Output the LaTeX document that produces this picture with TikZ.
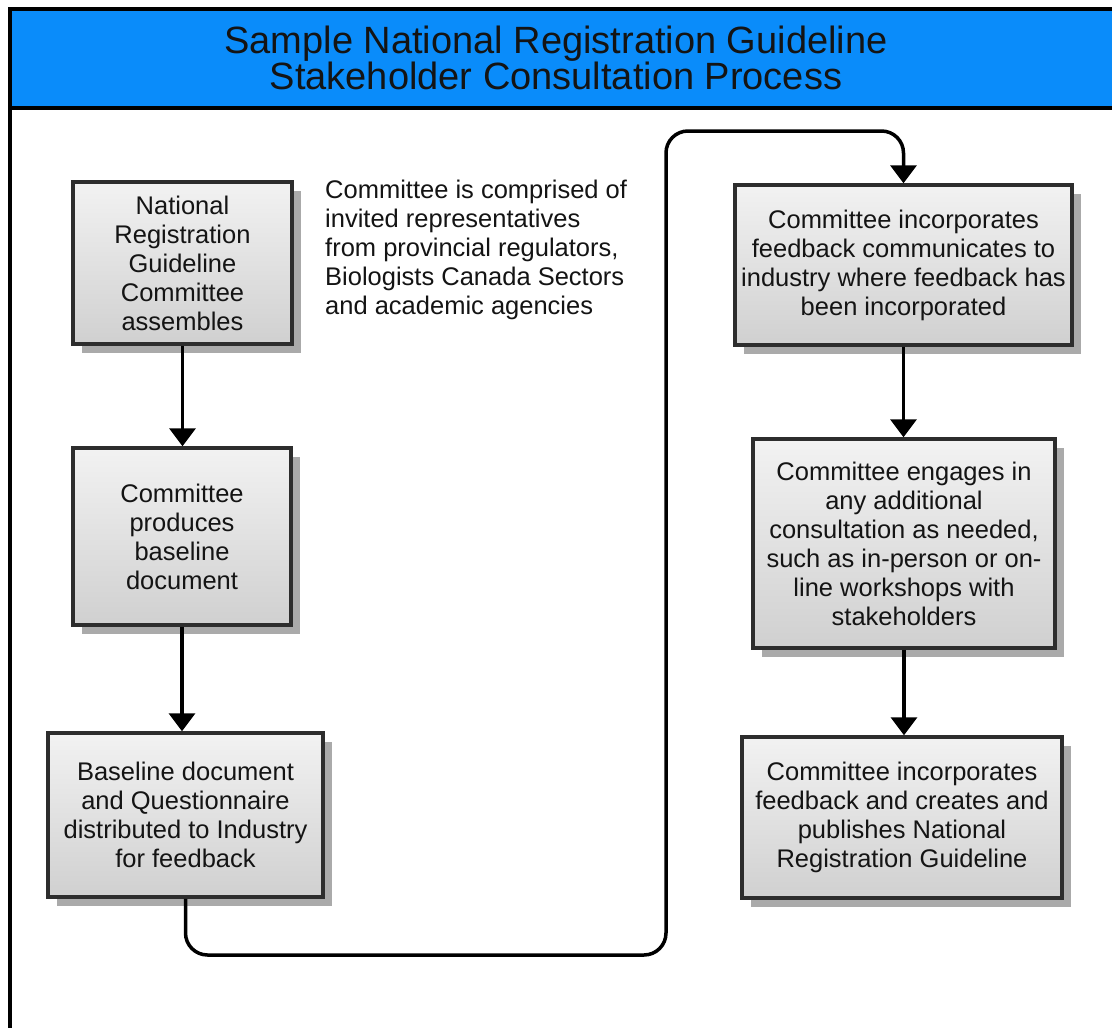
\documentclass[tikz,border=0pt]{standalone}
\usepackage{fontspec}
\setmainfont{Liberation Sans}
\usetikzlibrary{arrows.meta,shadows}
\definecolor{hdrblue}{RGB}{10,140,250}
\definecolor{boxedge}{RGB}{45,45,45}
\definecolor{boxtop}{RGB}{242,242,242}
\definecolor{boxbot}{RGB}{208,208,208}
\definecolor{shadowgray}{RGB}{170,170,170}
\definecolor{txt}{RGB}{20,20,20}
\newcommand{\bodyfont}{\fontsize{25.5}{29}\selectfont}
\newcommand{\titlefont}{\fontsize{38}{35}\selectfont}
\begin{document}
\begin{tikzpicture}[x=1pt,y=-1pt,
  stepbox/.style={draw=boxedge, line width=3.5pt, top color=boxtop, bottom color=boxbot,
    align=center, text=txt, font=\bodyfont, inner sep=0pt,
    drop shadow={shadow xshift=9pt, shadow yshift=-9pt, fill=shadowgray, opacity=1}},
  arr/.style={line width=3.5pt, draw=black, -{Triangle[width=26pt,length=18pt]}},
  note/.style={align=left, text=txt, font=\bodyfont, inner sep=0pt}]
\useasboundingbox (0,0) rectangle (1112,1028);
\clip (0,0) rectangle (1112,1028);
\fill[white] (0,0) rectangle (1112,1028);
% frame and header
\draw[line width=3.5pt, draw=black] (10,9) rectangle (1130,1045);
\draw[line width=3.5pt, draw=black, fill=hdrblue] (10,9) rectangle (1130,108);
\node[align=center, text=txt, font=\titlefont, inner sep=0pt] (title) at (556,58)
  {Sample National Registration Guideline\\Stakeholder Consultation Process};
% boxes
\node[stepbox, minimum width=219pt, minimum height=162pt] (b1) at (182.5,263)
  {National\\Registration\\Guideline\\Committee\\assembles};
\node[stepbox, minimum width=218pt, minimum height=177pt] (b2) at (182,536.5)
  {Committee\\produces\\baseline\\document};
\node[stepbox, minimum width=275pt, minimum height=164pt] (b3) at (185.5,815)
  {Baseline document\\and Questionnaire\\distributed to Industry\\for feedback};
\node[stepbox, minimum width=337pt, minimum height=160pt] (r1) at (903.5,265)
  {Committee incorporates\\feedback communicates to\\industry where feedback has\\been incorporated};
\node[stepbox, minimum width=302pt, minimum height=209pt] (r2) at (904,543.5)
  {Committee engages in\\any additional\\consultation as needed,\\such as in-person or on-\\line workshops with\\stakeholders};
\node[stepbox, minimum width=320pt, minimum height=161pt] (r3) at (902,817.5)
  {Committee incorporates\\feedback and creates and\\publishes National\\Registration Guideline};
\node[note, anchor=north west] (n1) at (325,180)
  {Committee is comprised of\\invited representatives\\from provincial regulators,\\Biologists Canada Sectors\\and academic agencies};
% connectors
\coordinate (t1) at (666,955);
\coordinate (t2) at (666,131);
\draw[arr] (b1.south) -- (b1.south |- b2.north);
\draw[arr] (b2.south) -- (b2.south |- b3.north);
\draw[arr, rounded corners=22pt] (b3.south) |- (t1) -- (t2) -| (r1.north);
\draw[arr] (r1.south) -- (r1.south |- r2.north);
\draw[arr] (r2.south) -- (r2.south |- r3.north);
\end{tikzpicture}
\end{document}
